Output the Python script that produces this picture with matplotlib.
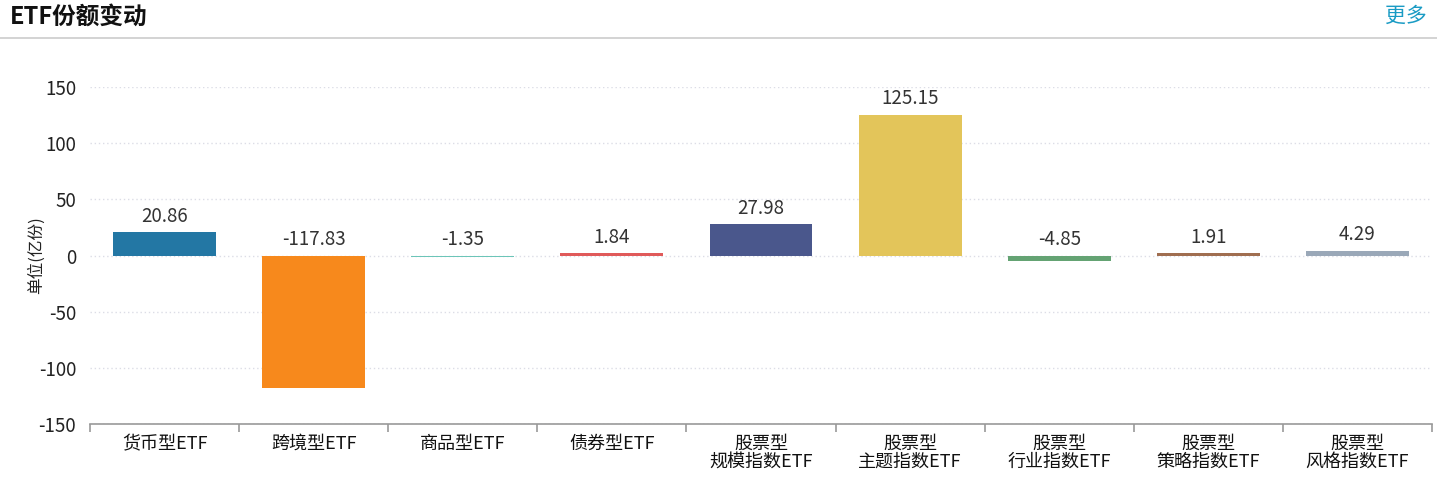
import matplotlib
matplotlib.use("Agg")
import matplotlib.pyplot as plt
from matplotlib.lines import Line2D

plt.rcParams['font.family'] = ['Noto Sans CJK SC', 'DejaVu Sans']

categories = ["货币型ETF", "跨境型ETF", "商品型ETF", "债券型ETF",
              "股票型\n规模指数ETF", "股票型\n主题指数ETF", "股票型\n行业指数ETF",
              "股票型\n策略指数ETF", "股票型\n风格指数ETF"]
values = [20.86, -117.83, -1.35, 1.84, 27.98, 125.15, -4.85, 1.91, 4.29]
colors = ["#2377a4", "#f7891c", "#6cc5b8", "#e05a5a", "#4a578c",
          "#e3c55a", "#64a373", "#a06e50", "#9aa8b8"]
yticks = [-150, -100, -50, 0, 50, 100, 150]

fig = plt.figure(figsize=(14.37, 5.01), dpi=100)
ax = fig.add_axes([90/1437, 1-424/501, (1432-90)/1437, (424-87)/501])

x = list(range(len(categories)))
ax.bar(x, values, width=0.69, color=colors, zorder=3)
for xi, v in zip(x, values):
    ax.annotate(f"{v:.2f}", (xi, max(v, 0)), xytext=(0, 4), textcoords="offset points",
                ha="center", va="bottom", fontsize=13.5, color="#333333")

ax.set_xlim(-0.5, len(categories) - 0.5)
ax.set_ylim(-150, 150)
ax.set_yticks(yticks)
ax.set_yticklabels([str(t) for t in yticks], fontsize=13.5, color="#222222")
ax.yaxis.grid(True, linestyle=(0, (1, 2)), color="#dcdde6", linewidth=1, zorder=0)
ax.tick_params(axis="y", length=0, pad=10)
for s in ["left", "right", "top"]:
    ax.spines[s].set_visible(False)
ax.spines["bottom"].set_color("#999999")
ax.spines["bottom"].set_linewidth(1.2)

ax.set_xticks([i - 0.5 for i in range(len(categories) + 1)], minor=False)
ax.set_xticklabels([])
ax.tick_params(axis="x", length=6, color="#999999", width=1.2)
ax.set_xticks(x, minor=True)
ax.set_xticklabels(categories, minor=True, fontsize=13, color="#111111", linespacing=0.95)
ax.tick_params(axis="x", which="minor", length=0, pad=8)

ax.set_ylabel("单位(亿份)", fontsize=12, color="#222222")
ax.yaxis.set_label_coords(-0.0335, 0.5)

fig.text(10/1437, 1-17/501, "ETF份额变动", fontsize=17, fontweight="bold", va="center", ha="left", color="#111111")
fig.text(1427/1437, 1-16/501, "更多", fontsize=15, va="center", ha="right", color="#1a9bc4")
fig.add_artist(Line2D([0, 1], [1-38/501, 1-38/501], color="#cccccc", linewidth=1.2))

fig.savefig("out.png", dpi=100, facecolor="white")
